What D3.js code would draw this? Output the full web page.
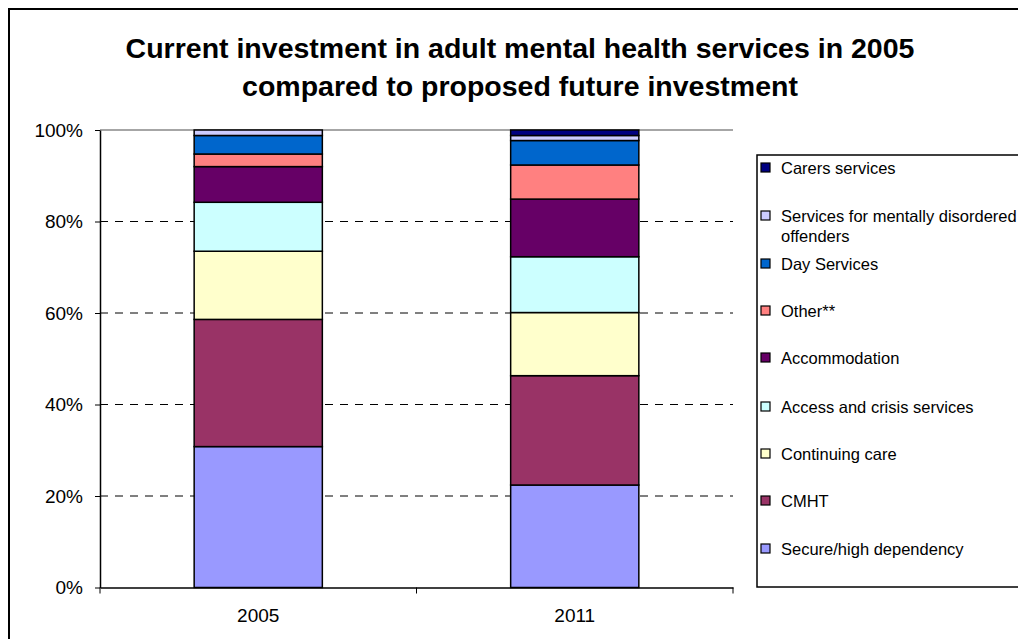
<!DOCTYPE html>
<html>
<head>
<meta charset="utf-8">
<script src="https://cdn.jsdelivr.net/npm/d3@7"></script>
<style>
  body { margin: 0; background: #fff; }
  svg { font-family: "Liberation Sans", Arial, sans-serif; }
</style>
</head>
<body>
<div id="chart"></div>
<script>
var years = ["2005", "2011"];
var seriesNames = [
  "Secure/high dependency",
  "CMHT",
  "Continuing care",
  "Access and crisis services",
  "Accommodation",
  "Other**",
  "Day Services",
  "Services for mentally disordered offenders",
  "Carers services"
];
var values2005 = [30.8, 27.8, 14.9, 10.7, 7.8, 2.75, 4.05, 1.2, 0];
var values2011 = [22.4, 23.9, 13.8, 12.2, 12.6, 7.45, 5.35, 1.1, 1.2];
var seriesColors = ["#9999FF", "#993366", "#FFFFCC", "#CCFFFF", "#660066", "#FF8080", "#0066CC", "#CCCCFF", "#000080"];
var yTicks = [0, 20, 40, 60, 80, 100];

var width = 1018, height = 639;
var plot = { left: 100, right: 733, top: 130, bottom: 587.5 };

var svg = d3.select("#chart").append("svg")
  .attr("width", width)
  .attr("height", height);

// outer chart border (runs off the right and bottom edge)
svg.append("rect")
  .attr("x", 9).attr("y", 9)
  .attr("width", width + 20).attr("height", height + 20)
  .attr("fill", "none").attr("stroke", "#000").attr("stroke-width", 2);

// title
var title = svg.append("text")
  .attr("text-anchor", "middle")
  .attr("font-weight", "bold")
  .attr("font-size", 28.5);
title.append("tspan").attr("x", 520).attr("y", 58)
  .text("Current investment in adult mental health services in 2005");
title.append("tspan").attr("x", 520).attr("y", 96)
  .text("compared to proposed future investment");

var x = d3.scaleBand().domain(years).range([plot.left, plot.right]).paddingInner(0).paddingOuter(0);
var y = d3.scaleLinear().domain([0, 100]).range([plot.bottom, plot.top]);

// gridlines
svg.append("g").selectAll("line")
  .data(yTicks.filter(function (d) { return d > 0 && d < 100; }))
  .enter().append("line")
  .attr("x1", plot.left).attr("x2", plot.right)
  .attr("y1", function (d) { return y(d); })
  .attr("y2", function (d) { return y(d); })
  .attr("stroke", "#000").attr("stroke-width", 1)
  .attr("stroke-dasharray", "8,7");

// top line of plot area
svg.append("line")
  .attr("x1", plot.left).attr("x2", plot.right)
  .attr("y1", y(100)).attr("y2", y(100))
  .attr("stroke", "#888").attr("stroke-width", 1.5);

// stacked data
var table = years.map(function (yr, i) {
  var row = { year: yr };
  var vals = i === 0 ? values2005 : values2011;
  seriesNames.forEach(function (s, j) { row[s] = vals[j]; });
  return row;
});
var stack = d3.stack().keys(seriesNames);
var stacked = stack(table);

var barW = x.bandwidth() * 0.405;
var layers = svg.append("g").selectAll("g")
  .data(stacked)
  .enter().append("g")
  .attr("fill", function (d, i) { return seriesColors[i]; });

layers.selectAll("rect")
  .data(function (d) { return d.filter(function (p) { return p[1] - p[0] > 0; }); })
  .enter().append("rect")
  .attr("x", function (d) { return x(d.data.year) + (x.bandwidth() - barW) / 2; })
  .attr("width", barW)
  .attr("y", function (d) { return y(d[1]); })
  .attr("height", function (d) { return y(d[0]) - y(d[1]); })
  .attr("stroke", "#000").attr("stroke-width", 1.5);

// y axis
var yAxis = svg.append("g")
  .attr("transform", "translate(" + plot.left + ",0)")
  .call(d3.axisLeft(y).tickValues(yTicks).tickSize(5).tickSizeOuter(0)
    .tickFormat(function (d) { return d + "%"; }));
yAxis.select(".domain").attr("stroke", "#000").attr("stroke-width", 1.5);
yAxis.selectAll(".tick line").attr("stroke", "#000");
yAxis.selectAll("text").attr("font-size", 19).attr("fill", "#000")
  .attr("font-family", "Liberation Sans, Arial, sans-serif").attr("dx", -9);

// x axis
var xAxis = svg.append("g")
  .attr("transform", "translate(0," + plot.bottom + ")")
  .call(d3.axisBottom(x).tickSize(0).tickSizeOuter(0));
xAxis.select(".domain").attr("stroke", "#000").attr("stroke-width", 1.5);
xAxis.selectAll("text").attr("font-size", 19).attr("fill", "#000")
  .attr("font-family", "Liberation Sans, Arial, sans-serif")
  .attr("y", 34).attr("dy", 0);
// category divider ticks
var divs = [plot.left, plot.left + x.bandwidth(), plot.right];
xAxis.selectAll(".div-tick").data(divs).enter().append("line")
  .attr("x1", function (d) { return d; }).attr("x2", function (d) { return d; })
  .attr("y1", 0).attr("y2", 6)
  .attr("stroke", "#000");

// legend
var legend = { x: 757, y: 155, w: 300, h: 432 };
svg.append("rect")
  .attr("x", legend.x).attr("y", legend.y)
  .attr("width", legend.w).attr("height", legend.h)
  .attr("fill", "#fff").attr("stroke", "#000").attr("stroke-width", 1.5);

var legendOrder = seriesNames.slice().reverse();
var legendRowY = [168, 216, 264, 311, 358, 407, 454, 501, 549];
var items = svg.append("g").selectAll("g")
  .data(legendOrder)
  .enter().append("g")
  .attr("transform", function (d, i) { return "translate(" + 761 + "," + legendRowY[i] + ")"; });

items.append("rect")
  .attr("x", 0).attr("y", -5)
  .attr("width", 9).attr("height", 9)
  .attr("fill", function (d) { return seriesColors[seriesNames.indexOf(d)]; })
  .attr("stroke", "#000").attr("stroke-width", 1.2);

items.each(function (d) {
  var t = d3.select(this).append("text")
    .attr("x", 20).attr("y", 5.5)
    .attr("font-size", 16.5).attr("fill", "#000");
  if (d === "Services for mentally disordered offenders") {
    t.append("tspan").attr("x", 20).attr("y", 5.5).text("Services for mentally disordered");
    t.append("tspan").attr("x", 20).attr("y", 25.5).text("offenders");
  } else {
    t.text(d);
  }
});
</script>
</body>
</html>
